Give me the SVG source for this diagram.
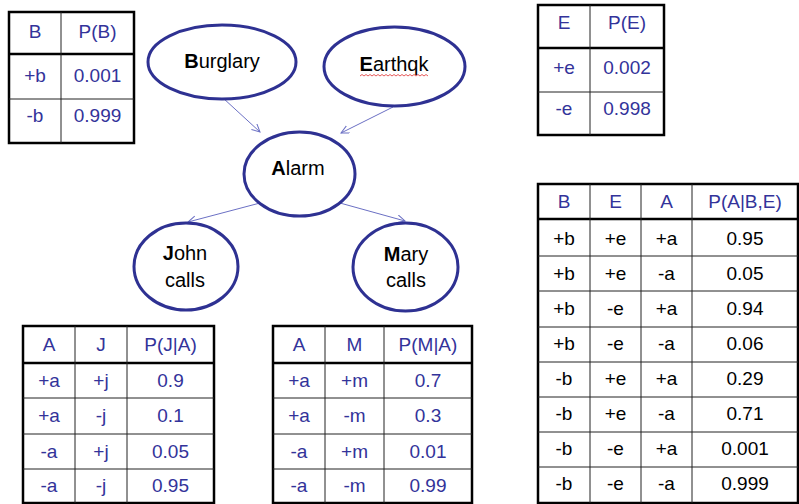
<svg xmlns="http://www.w3.org/2000/svg" width="799" height="504" viewBox="0 0 799 504">
<style>
.node{fill:#fff;stroke:#2e3192;stroke-width:3}
.lbl{font-family:"Liberation Sans",Arial,sans-serif;font-size:20px;fill:#000;text-anchor:middle}
.edge{stroke:#6b70c4;stroke-width:1;fill:none}
.outer{fill:#fff;stroke:#000;stroke-width:2.5}
.hd{stroke:#000;stroke-width:2.5}
.ln{stroke:#222;stroke-width:1}
.t{font-family:"Liberation Sans",Arial,sans-serif;font-size:19px;fill:#33339a;text-anchor:middle}
.k{fill:#000}
</style>
<defs>
<marker id="arr" markerWidth="10" markerHeight="10" refX="8" refY="4" orient="auto" markerUnits="userSpaceOnUse">
<path d="M0,0 L8,4 L0,8" fill="none" stroke="#6b70c4" stroke-width="1"/>
</marker>
</defs>
<rect width="799" height="504" fill="#fff"/>

<g id="connectors">
<line class="edge" x1="223" y1="98" x2="260" y2="132" marker-end="url(#arr)"/>
<line class="edge" x1="393" y1="107" x2="341" y2="133" marker-end="url(#arr)"/>
<line class="edge" x1="260" y1="203" x2="188" y2="222" marker-end="url(#arr)"/>
<line class="edge" x1="340" y1="203" x2="405" y2="221" marker-end="url(#arr)"/>
</g>

<g id="burglary">
<ellipse class="node" cx="222" cy="62" rx="74" ry="37"/>
<text class="lbl" x="222" y="68"><tspan font-weight="bold">B</tspan>urglary</text>
</g>
<g id="earthqk">
<ellipse class="node" cx="394.5" cy="66.5" rx="70.5" ry="39.5"/>
<text class="lbl" x="394" y="71"><tspan font-weight="bold">E</tspan>arthqk</text>
<path d="M360,76 l2,-1.5 l2,1.5 l2,-1.5 l2,1.5 l2,-1.5 l2,1.5 l2,-1.5 l2,1.5 l2,-1.5 l2,1.5 l2,-1.5 l2,1.5 l2,-1.5 l2,1.5 l2,-1.5 l2,1.5 l2,-1.5 l2,1.5 l2,-1.5 l2,1.5 l2,-1.5 l2,1.5 l2,-1.5 l2,1.5 l2,-1.5 l2,1.5 l2,-1.5 l2,1.5 l2,-1.5 l2,1.5 l2,-1.5 l2,1.5 l2,-1.5 l2,1.5" fill="none" stroke="#e03030" stroke-width="0.8"/>
</g>
<g id="alarm">
<ellipse class="node" cx="299.5" cy="174" rx="55.5" ry="42"/>
<text class="lbl" x="298" y="175"><tspan font-weight="bold">A</tspan>larm</text>
</g>
<g id="john">
<ellipse class="node" cx="186" cy="266.5" rx="52" ry="43.5"/>
<text class="lbl" x="185" y="260"><tspan font-weight="bold">J</tspan>ohn</text>
<text class="lbl" x="185" y="287">calls</text>
</g>
<g id="mary">
<ellipse class="node" cx="405.5" cy="267" rx="52.5" ry="44"/>
<text class="lbl" x="406" y="261"><tspan font-weight="bold">M</tspan>ary</text>
<text class="lbl" x="406" y="287">calls</text>
</g>

<g id="table-b">
<rect class="outer" x="9" y="12" width="125" height="131"/>
<line class="hd" x1="9" y1="54" x2="134" y2="54"/>
<line class="ln" x1="9" y1="99" x2="134" y2="99"/>
<line class="ln" x1="61" y1="12" x2="61" y2="143"/>
<text class="t" x="35" y="38">B</text><text class="t" x="97.5" y="38">P(B)</text>
<text class="t" x="35" y="82">+b</text><text class="t" x="97.5" y="82">0.001</text>
<text class="t" x="35" y="122">-b</text><text class="t" x="97.5" y="122">0.999</text>
</g>

<g id="table-e">
<rect class="outer" x="538" y="5" width="126" height="130"/>
<line class="hd" x1="538" y1="48" x2="664" y2="48"/>
<line class="ln" x1="538" y1="92" x2="664" y2="92"/>
<line class="ln" x1="590" y1="5" x2="590" y2="135"/>
<text class="t" x="564" y="29">E</text><text class="t" x="627" y="29">P(E)</text>
<text class="t" x="564" y="74">+e</text><text class="t" x="627" y="74">0.002</text>
<text class="t" x="564" y="115">-e</text><text class="t" x="627" y="115">0.998</text>
</g>

<g id="table-a">
<rect class="outer" x="538" y="184" width="260" height="319"/>
<line class="hd" x1="538" y1="219" x2="798" y2="219"/>
<line class="ln" x1="538" y1="256" x2="798" y2="256"/>
<line class="ln" x1="538" y1="291" x2="798" y2="291"/>
<line class="ln" x1="538" y1="327" x2="798" y2="327"/>
<line class="ln" x1="538" y1="362" x2="798" y2="362"/>
<line class="ln" x1="538" y1="397" x2="798" y2="397"/>
<line class="ln" x1="538" y1="432" x2="798" y2="432"/>
<line class="ln" x1="538" y1="467" x2="798" y2="467"/>
<line class="ln" x1="590" y1="184" x2="590" y2="503"/>
<line class="ln" x1="641" y1="184" x2="641" y2="503"/>
<line class="ln" x1="692" y1="184" x2="692" y2="503"/>
<text class="t" x="564" y="208">B</text><text class="t" x="615.5" y="208">E</text><text class="t" x="666.5" y="208">A</text><text class="t" x="745" y="208">P(A|B,E)</text>
<g class="k">
<text class="t k" x="564" y="245">+b</text><text class="t k" x="615.5" y="245">+e</text><text class="t k" x="666.5" y="245">+a</text><text class="t k" x="745" y="245">0.95</text>
<text class="t k" x="564" y="280">+b</text><text class="t k" x="615.5" y="280">+e</text><text class="t k" x="666.5" y="280">-a</text><text class="t k" x="745" y="280">0.05</text>
<text class="t k" x="564" y="315">+b</text><text class="t k" x="615.5" y="315">-e</text><text class="t k" x="666.5" y="315">+a</text><text class="t k" x="745" y="315">0.94</text>
<text class="t k" x="564" y="350">+b</text><text class="t k" x="615.5" y="350">-e</text><text class="t k" x="666.5" y="350">-a</text><text class="t k" x="745" y="350">0.06</text>
<text class="t k" x="564" y="385">-b</text><text class="t k" x="615.5" y="385">+e</text><text class="t k" x="666.5" y="385">+a</text><text class="t k" x="745" y="385">0.29</text>
<text class="t k" x="564" y="420">-b</text><text class="t k" x="615.5" y="420">+e</text><text class="t k" x="666.5" y="420">-a</text><text class="t k" x="745" y="420">0.71</text>
<text class="t k" x="564" y="455">-b</text><text class="t k" x="615.5" y="455">-e</text><text class="t k" x="666.5" y="455">+a</text><text class="t k" x="745" y="455">0.001</text>
<text class="t k" x="564" y="490">-b</text><text class="t k" x="615.5" y="490">-e</text><text class="t k" x="666.5" y="490">-a</text><text class="t k" x="745" y="490">0.999</text>
</g>
</g>

<g id="table-j">
<rect class="outer" x="23" y="326" width="191" height="177"/>
<line class="hd" x1="23" y1="363" x2="214" y2="363"/>
<line class="ln" x1="23" y1="398" x2="214" y2="398"/>
<line class="ln" x1="23" y1="434" x2="214" y2="434"/>
<line class="ln" x1="23" y1="469" x2="214" y2="469"/>
<line class="ln" x1="75" y1="326" x2="75" y2="503"/>
<line class="ln" x1="127" y1="326" x2="127" y2="503"/>
<text class="t" x="49" y="351">A</text><text class="t" x="101" y="351">J</text><text class="t" x="170.5" y="351">P(J|A)</text>
<text class="t" x="49" y="387">+a</text><text class="t" x="101" y="387">+j</text><text class="t" x="170.5" y="387">0.9</text>
<text class="t" x="49" y="422">+a</text><text class="t" x="101" y="422">-j</text><text class="t" x="170.5" y="422">0.1</text>
<text class="t" x="49" y="458">-a</text><text class="t" x="101" y="458">+j</text><text class="t" x="170.5" y="458">0.05</text>
<text class="t" x="49" y="492">-a</text><text class="t" x="101" y="492">-j</text><text class="t" x="170.5" y="492">0.95</text>
</g>

<g id="table-m">
<rect class="outer" x="273" y="326" width="199" height="177"/>
<line class="hd" x1="273" y1="363" x2="472" y2="363"/>
<line class="ln" x1="273" y1="398" x2="472" y2="398"/>
<line class="ln" x1="273" y1="434" x2="472" y2="434"/>
<line class="ln" x1="273" y1="469" x2="472" y2="469"/>
<line class="ln" x1="325" y1="326" x2="325" y2="503"/>
<line class="ln" x1="384" y1="326" x2="384" y2="503"/>
<text class="t" x="299" y="351">A</text><text class="t" x="354.5" y="351">M</text><text class="t" x="428" y="351">P(M|A)</text>
<text class="t" x="299" y="387">+a</text><text class="t" x="354.5" y="387">+m</text><text class="t" x="428" y="387">0.7</text>
<text class="t" x="299" y="422">+a</text><text class="t" x="354.5" y="422">-m</text><text class="t" x="428" y="422">0.3</text>
<text class="t" x="299" y="458">-a</text><text class="t" x="354.5" y="458">+m</text><text class="t" x="428" y="458">0.01</text>
<text class="t" x="299" y="492">-a</text><text class="t" x="354.5" y="492">-m</text><text class="t" x="428" y="492">0.99</text>
</g>
</svg>
